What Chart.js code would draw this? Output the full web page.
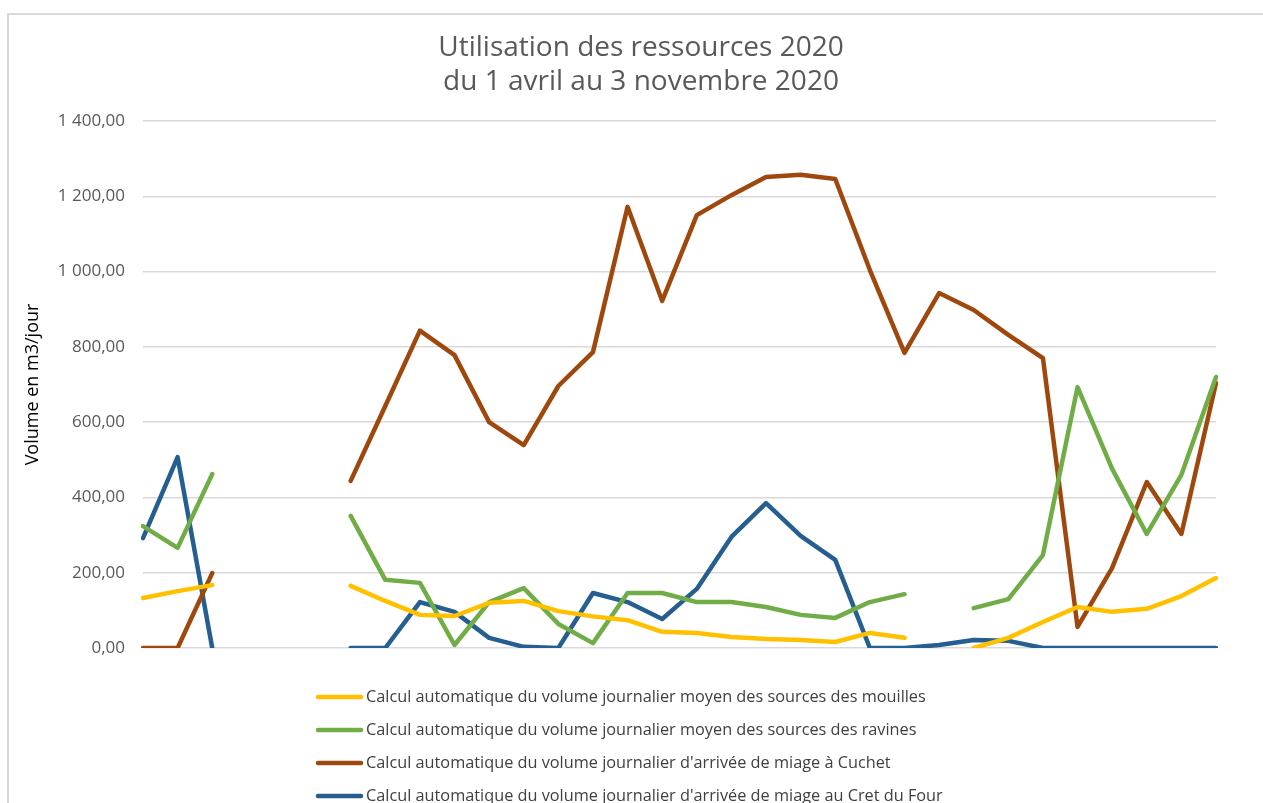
<!DOCTYPE html>
<html lang="fr">
<head>
<meta charset="utf-8">
<title>Utilisation des ressources 2020</title>
<script src="https://cdn.jsdelivr.net/npm/chart.js@4/dist/chart.umd.min.js"></script>
<style>
    body { margin: 0; background: #ffffff; }
    canvas { display: block; }
</style>
</head>
<body>
<canvas id="chart" width="1263" height="803"></canvas>
<script>
// Semaines du 1 avril au 3 novembre 2020 (axe sans etiquettes sur l'original)
var weeks = ['01/04', '08/04', '15/04', '22/04', '29/04', '06/05', '13/05', '20/05',
             '27/05', '03/06', '10/06', '17/06', '24/06', '01/07', '08/07', '15/07',
             '22/07', '29/07', '05/08', '12/08', '19/08', '26/08', '02/09', '09/09',
             '16/09', '23/09', '30/09', '07/10', '14/10', '21/10', '28/10', '03/11'];

var mouilles = [133, 151, 167, null, null, null, 165, 125, 88, 85, 120, 125, 98, 84, 74, 43,
                40, 29, 24, 21, 16, 40, 27, null, 0, 27, 69, 109, 96, 104, 138, 186];

var ravines = [324, 266, 462, null, null, null, 351, 181, 173, 8, 122, 159, 64, 13, 146, 146,
               122, 122, 109, 88, 80, 122, 143, null, 106, 130, 247, 693, 476, 303, 460, 720];

var cuchet = [0, 0, 199, null, null, null, 444, 643, 843, 778, 600, 539, 696, 786, 1172, 922,
              1150, 1203, 1251, 1257, 1246, 1004, 784, 943, 898, 832, 770, 56, 213, 441, 303, 704];

var cretDuFour = [292, 507, 0, null, null, null, 0, 0, 122, 96, 27, 3, 0, 146, 122, 77,
                  157, 295, 385, 298, 234, 0, 0, 8, 21, 19, 0, 0, 0, 0, 0, 0];

var seriesNames = [
    'Calcul automatique du volume journalier moyen des sources des mouilles',
    'Calcul automatique du volume journalier moyen des sources des ravines',
    "Calcul automatique du volume journalier d'arrivée de miage à Cuchet",
    "Calcul automatique du volume journalier d'arrivée de miage au Cret du Four"
];
var seriesColors = ['#FFC000', '#70AD47', '#9E480E', '#255E91'];

var titleLines = ['Utilisation des ressources 2020', 'du 1 avril au 3 novembre 2020'];

var yTicks = [0, 200, 400, 600, 800, 1000, 1200, 1400];

var FONT = '"Open Sans", Lato, sans-serif';

// format francais : 1 400,00
function formatFr(v)
{
    var parts = v.toFixed(2).split('.');
    var intPart = parts[0].replace(/\B(?=(\d{3})+(?!\d))/g, ' ');
    return intPart + ',' + parts[1];
}

function makeSet(i, values)
{
    return {
        label: seriesNames[i],
        data: values,
        borderColor: seriesColors[i],
        backgroundColor: seriesColors[i],
        borderWidth: 4.5,
        borderCapStyle: 'round',
        borderJoinStyle: 'round',
        pointRadius: 0,
        pointHoverRadius: 0,
        tension: 0,
        spanGaps: false,
        fill: false
    };
}

// cadre gris, titre centre sur la page, legende verticale sous le graphique
var framePlugin = {
    id: 'frame',
    beforeDraw: function(chart)
    {
        var ctx = chart.ctx;
        ctx.save();
        ctx.strokeStyle = '#d9d9d9';
        ctx.lineWidth = 2;
        ctx.beginPath();
        ctx.moveTo(8, 803);
        ctx.lineTo(8, 14);
        ctx.lineTo(1263, 14);
        ctx.stroke();
        ctx.restore();
    },
    afterDraw: function(chart)
    {
        var ctx = chart.ctx;
        ctx.save();

        // titre
        ctx.font = '28px ' + FONT;
        ctx.fillStyle = '#595959';
        ctx.textAlign = 'center';
        ctx.textBaseline = 'middle';
        titleLines.forEach(function(line, i)
        {
            ctx.fillText(line, 641, 48 + i * 34);
        });

        // legende
        ctx.font = '16.3px ' + FONT;
        ctx.textAlign = 'left';
        chart.data.datasets.forEach(function(ds, i)
        {
            var y = 697 + i * 33;
            ctx.strokeStyle = ds.borderColor;
            ctx.lineWidth = 4.5;
            ctx.lineCap = 'round';
            ctx.beginPath();
            ctx.moveTo(318, y);
            ctx.lineTo(361, y);
            ctx.stroke();
            ctx.fillStyle = '#404040';
            ctx.fillText(ds.label, 366, y);
        });
        ctx.restore();
    }
};

const ctx = document.getElementById('chart');

new Chart(ctx, {
    type: 'line',
    data: {
        labels: weeks,
        datasets: [
            makeSet(0, mouilles),
            makeSet(1, ravines),
            makeSet(2, cuchet),
            makeSet(3, cretDuFour)
        ]
    },
    options: {
        responsive: false,
        animation: false,
        layout: {
            padding: { top: 121, left: 0, right: 47, bottom: 155 }
        },
        plugins: {
            legend: {
                display: false
            },
            tooltip: {
                enabled: false
            },
            title: {
                display: false
            }
        },
        scales: {
            x: {
                display: false,
                offset: false
            },
            y: {
                min: 0,
                max: 1400,
                afterBuildTicks: function(scale)
                {
                    scale.ticks = yTicks.map(function(v) { return { value: v }; });
                },
                afterFit: function(scale)
                {
                    scale.width = 143;
                },
                border: {
                    display: false
                },
                grid: {
                    color: '#d9d9d9',
                    lineWidth: 1.5,
                    drawTicks: false
                },
                ticks: {
                    color: '#595959',
                    padding: 18,
                    font: { family: FONT, size: 17 },
                    callback: function(v) { return formatFr(v); }
                },
                title: {
                    display: true,
                    text: 'Volume en m3/jour',
                    color: '#000000',
                    padding: { top: 22, bottom: 0 },
                    font: { family: FONT, size: 18 }
                }
            }
        }
    },
    plugins: [framePlugin]
});
</script>
</body>
</html>
